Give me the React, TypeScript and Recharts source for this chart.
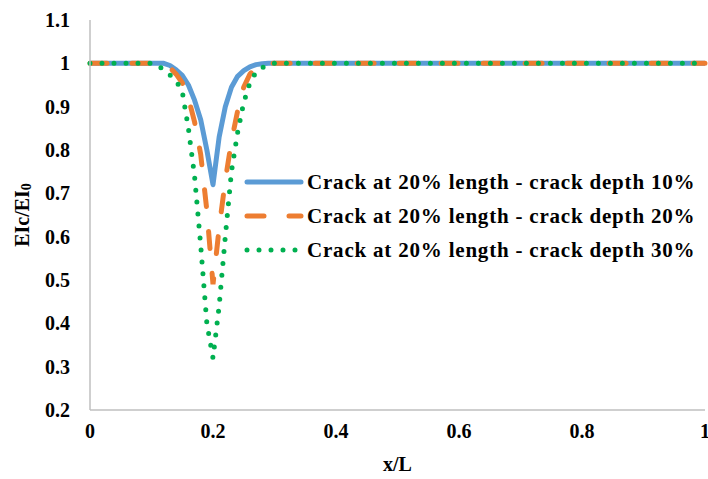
import React from 'react';
import { LineChart, Line, XAxis, YAxis, Legend } from 'recharts';

const xValues = [0, 0.05, 0.1, 0.11, 0.12, 0.13, 0.14, 0.15, 0.16, 0.17, 0.18, 0.19, 0.2, 0.21, 0.22, 0.23, 0.24, 0.25, 0.26, 0.27, 0.28, 0.29, 0.3, 0.35, 0.4, 0.45, 0.5, 0.55, 0.6, 0.65, 0.7, 0.75, 0.8, 0.85, 0.9, 0.95, 1];
const depth10 = [1, 1, 1, 1, 1, 0.995, 0.985, 0.972, 0.95, 0.915, 0.87, 0.8, 0.72, 0.83, 0.9, 0.945, 0.97, 0.983, 0.992, 0.997, 0.999, 1, 1, 1, 1, 1, 1, 1, 1, 1, 1, 1, 1, 1, 1, 1, 1];
const depth20 = [1, 1, 1, 1, 0.997, 0.99, 0.975, 0.955, 0.92, 0.865, 0.79, 0.66, 0.49, 0.62, 0.73, 0.82, 0.89, 0.945, 0.975, 0.99, 0.997, 1, 1, 1, 1, 1, 1, 1, 1, 1, 1, 1, 1, 1, 1, 1, 1];
const depth30 = [1, 1, 1, 0.995, 0.985, 0.973, 0.96, 0.935, 0.85, 0.74, 0.58, 0.4, 0.32, 0.44, 0.6, 0.75, 0.84, 0.91, 0.955, 0.98, 0.99, 0.997, 1, 1, 1, 1, 1, 1, 1, 1, 1, 1, 1, 1, 1, 1, 1];

const xTicks = [0, 0.2, 0.4, 0.6, 0.8, 1];
const yTicks = [0.2, 0.3, 0.4, 0.5, 0.6, 0.7, 0.8, 0.9, 1, 1.1];
const seriesNames = [
  'Crack at 20% length - crack depth 10%',
  'Crack at 20% length - crack depth 20%',
  'Crack at 20% length - crack depth 30%',
];

const data = xValues.map((x, i) => ({ x, s1: depth10[i], s2: depth20[i], s3: depth30[i] }));

const FONT = "Liberation Serif, DejaVu Serif, serif";
const BLUE = '#5b9bd5';
const ORANGE = '#ed7d31';
const GREEN = '#00b050';

const styles = [
  { color: BLUE, dash: undefined as string | undefined },
  { color: ORANGE, dash: '17 25' },
  { color: GREEN, dash: '0 12' },
];

const renderLegend = () => (
  <div style={{ fontFamily: FONT, fontWeight: 'bold', fontSize: 21, letterSpacing: 0.8, color: '#000' }}>
    {seriesNames.map((name, i) => (
      <div key={name} style={{ display: 'flex', alignItems: 'center', height: 34, whiteSpace: 'nowrap' }}>
        <svg width={62} height={10} style={{ marginRight: 2 }}>
          <line x1={4} y1={5} x2={58} y2={5} stroke={styles[i].color} strokeWidth={5}
            strokeDasharray={styles[i].dash} strokeLinecap="round" />
        </svg>
        <span>{name}</span>
      </div>
    ))}
  </div>
);

const renderYLabel = () => (
  <text x={22} y={215} transform="rotate(-90, 22, 215)" textAnchor="middle" dominantBaseline="central"
    fontFamily={FONT} fontWeight="bold" fontSize={20} fill="#000">
    EIc/EI<tspan fontSize={14} dy={4}>0</tspan>
  </text>
);

const fmt = (v: number) => String(Math.round(v * 10) / 10);

export default function App() {
  return (
    <div style={{ position: 'absolute', left: 0, top: 0, width: 708, height: 479, background: '#fff' }}>
      <LineChart width={708} height={479} data={data} margin={{ top: 20, right: 3, bottom: 0, left: 30 }}>
        <XAxis dataKey="x" type="number" domain={[0, 1]} ticks={xTicks} tickFormatter={fmt}
          axisLine={{ stroke: '#bfbfbf', strokeWidth: 1.5 }} tickLine={false} tickSize={0} tickMargin={14}
          height={69} interval={0}
          tick={{ fontFamily: FONT, fontWeight: 'bold', fontSize: 20, fill: '#000' }}
          label={{ value: 'x/L', position: 'insideBottom', offset: 8, style: { fontFamily: FONT, fontWeight: 'bold', fontSize: 20, fill: '#000' } }} />
        <YAxis type="number" domain={[0.2, 1.1]} ticks={yTicks} tickFormatter={fmt} width={60}
          axisLine={{ stroke: '#bfbfbf', strokeWidth: 1.5 }} tickLine={false} tickSize={0} tickMargin={20}
          interval={0} allowDataOverflow
          tick={{ fontFamily: FONT, fontWeight: 'bold', fontSize: 20, fill: '#000' }}
          label={{ content: renderYLabel }} />
        <Legend layout="vertical" verticalAlign="middle" align="center" content={renderLegend}
          wrapperStyle={{ position: 'absolute', left: 243, top: 165, width: 470 }} />
        <Line dataKey="s1" name={seriesNames[0]} stroke={BLUE} strokeWidth={5} dot={false}
          isAnimationActive={false} strokeLinejoin="round" />
        <Line dataKey="s2" name={seriesNames[1]} stroke={ORANGE} strokeWidth={5} dot={false}
          strokeDasharray="17 25" strokeLinecap="round" isAnimationActive={false} />
        <Line dataKey="s3" name={seriesNames[2]} stroke={GREEN} strokeWidth={5} dot={false}
          strokeDasharray="0 12" strokeLinecap="round" isAnimationActive={false} />
      </LineChart>
    </div>
  );
}
